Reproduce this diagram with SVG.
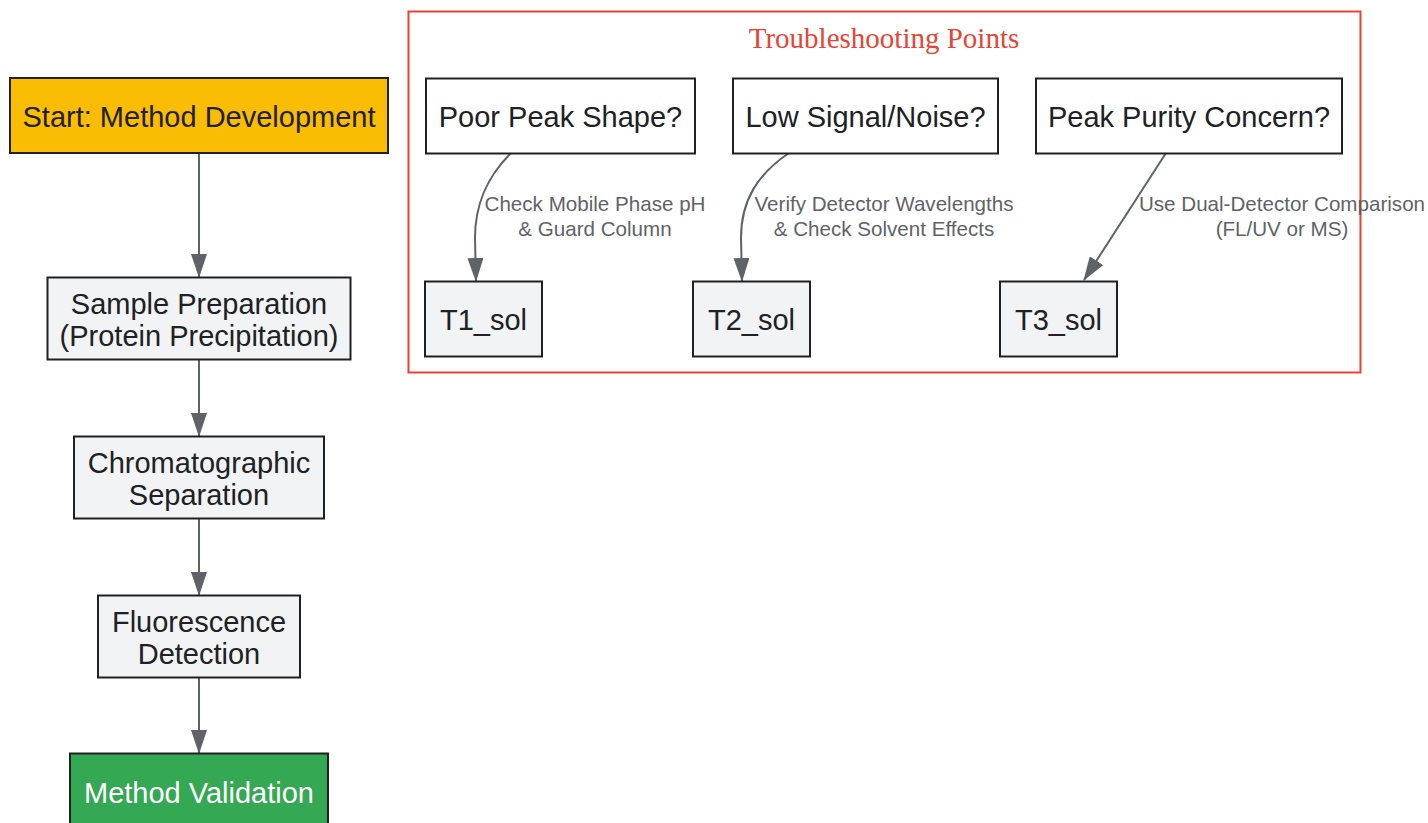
<svg xmlns="http://www.w3.org/2000/svg" width="1428" height="823" viewBox="0 0 1428 823">
<style>
.node rect{stroke:#202124;stroke-width:2}
.proc{fill:#F1F3F4}
.plain{fill:#FFFFFF}
.start{fill:#FBBC04}
.ok{fill:#34A853}
.t{font-family:"Liberation Sans",Arial,sans-serif;font-size:29px;fill:#202124;text-anchor:middle;dominant-baseline:central}
.tw{fill:#FFFFFF}
.el{font-family:"Liberation Sans",Arial,sans-serif;font-size:20.6px;fill:#5F6368;text-anchor:middle;dominant-baseline:central}
.edge{fill:none;stroke:#5F6368;stroke-width:2}
.ct{font-family:"Liberation Serif","Times New Roman",serif;font-size:29px;fill:#EA4335;text-anchor:middle;dominant-baseline:central}
</style>
<defs>
<marker id="arr" viewBox="0 0 24 16" refX="23" refY="8" markerWidth="24" markerHeight="16" markerUnits="userSpaceOnUse" orient="auto">
<path d="M0,0 L24,8 L0,16 z" fill="#5F6368"/>
</marker>
</defs>
<rect width="1428" height="823" fill="#FFFFFF"/>
<g id="cluster-troubleshooting">
<rect x="408.5" y="11.5" width="952" height="361" fill="#FFFFFF" stroke="#EA4335" stroke-width="2"/>
<text class="ct" x="884" y="38">Troubleshooting Points</text>
</g>
<g id="connectors">
<path class="edge" d="M199,153 L199,277" marker-end="url(#arr)"/>
<path class="edge" d="M199,360 L199,436" marker-end="url(#arr)"/>
<path class="edge" d="M199,519 L199,595" marker-end="url(#arr)"/>
<path class="edge" d="M199,678 L199,753" marker-end="url(#arr)"/>
<path class="edge" d="M511,153 C486,178 475,205 475,238 L476,281" marker-end="url(#arr)"/>
<path class="edge" d="M789,153 C758,174 741,200 741,238 L742,281" marker-end="url(#arr)"/>
<path class="edge" d="M1166,153 L1084,280" marker-end="url(#arr)"/>
<text class="el" x="595" y="203">Check Mobile Phase pH</text>
<text class="el" x="595" y="228">&amp; Guard Column</text>
<text class="el" x="884" y="203">Verify Detector Wavelengths</text>
<text class="el" x="884" y="228">&amp; Check Solvent Effects</text>
<text class="el" x="1282" y="203">Use Dual-Detector Comparison</text>
<text class="el" x="1282" y="228">(FL/UV or MS)</text>
</g>
<g id="node-start" class="node">
<rect class="start" x="10" y="78" width="378" height="75"/>
<text class="t" x="199" y="117">Start: Method Development</text>
</g>
<g id="node-sample" class="node">
<rect class="proc" x="47.5" y="277.5" width="303" height="82"/>
<text class="t" x="199" y="304">Sample Preparation</text>
<text class="t" x="199" y="336">(Protein Precipitation)</text>
</g>
<g id="node-chrom" class="node">
<rect class="proc" x="74" y="436.5" width="250" height="82"/>
<text class="t" x="199" y="463">Chromatographic</text>
<text class="t" x="199" y="495">Separation</text>
</g>
<g id="node-fluor" class="node">
<rect class="proc" x="98" y="595.5" width="202" height="82"/>
<text class="t" x="199" y="622">Fluorescence</text>
<text class="t" x="199" y="654">Detection</text>
</g>
<g id="node-valid" class="node">
<rect class="ok" x="70" y="753.5" width="258" height="75"/>
<text class="t tw" x="199" y="793">Method Validation</text>
</g>
<g id="node-t1" class="node">
<rect class="plain" x="426" y="78.5" width="269" height="75"/>
<text class="t" x="560.5" y="117">Poor Peak Shape?</text>
</g>
<g id="node-t2" class="node">
<rect class="plain" x="733" y="78.5" width="265" height="75"/>
<text class="t" x="865.5" y="117">Low Signal/Noise?</text>
</g>
<g id="node-t3" class="node">
<rect class="plain" x="1036" y="78.5" width="306" height="75"/>
<text class="t" x="1189" y="117">Peak Purity Concern?</text>
</g>
<g id="node-t1sol" class="node">
<rect class="proc" x="425" y="281.5" width="117" height="75"/>
<text class="t" x="483.5" y="320">T1_sol</text>
</g>
<g id="node-t2sol" class="node">
<rect class="proc" x="693" y="281.5" width="117" height="75"/>
<text class="t" x="751.5" y="320">T2_sol</text>
</g>
<g id="node-t3sol" class="node">
<rect class="proc" x="1000" y="281.5" width="117" height="75"/>
<text class="t" x="1058.5" y="320">T3_sol</text>
</g>
</svg>
